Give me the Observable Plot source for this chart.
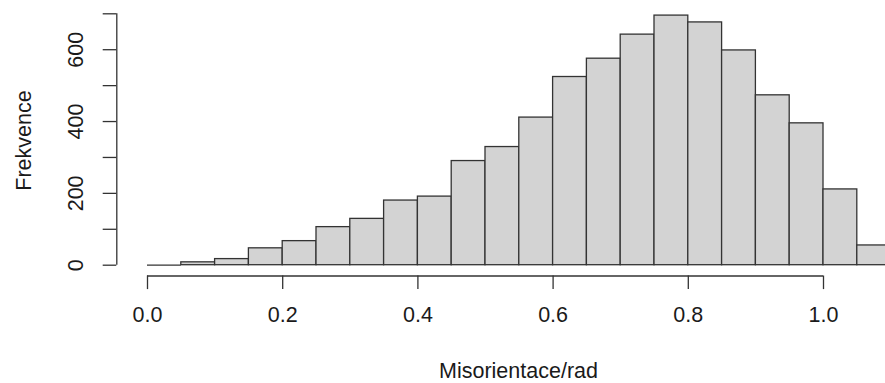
<!DOCTYPE html>
<html>
<head>
<meta charset="utf-8">
<style>
  html, body { margin: 0; padding: 0; background: #fff; }
  svg { display: block; }
</style>
<script src="https://cdn.jsdelivr.net/npm/d3@7"></script>
<script src="https://cdn.jsdelivr.net/npm/@observablehq/plot@0.6"></script>
</head>
<body>
<div id="chart"></div>
<script>
const binEdges = [0.00, 0.05, 0.10, 0.15, 0.20, 0.25, 0.30, 0.35, 0.40, 0.45, 0.50, 0.55,
                  0.60, 0.65, 0.70, 0.75, 0.80, 0.85, 0.90, 0.95, 1.00, 1.05, 1.10];
const counts = [0, 8, 17, 47, 67, 106, 129, 180, 191, 290, 329, 411,
                524, 575, 642, 695, 676, 598, 473, 395, 211, 55];
const xTicks = [0, 0.2, 0.4, 0.6, 0.8, 1.0];
const xTickLabels = ["0.0", "0.2", "0.4", "0.6", "0.8", "1.0"];
const yTicks = [0, 100, 200, 300, 400, 500, 600, 700];
const yLabelValues = [0, 200, 400, 600];
const xTitle = "Misorientace/rad";
const yTitle = "Frekvence";

const bins = counts.map((c, i) => ({x1: binEdges[i], x2: binEdges[i + 1], count: c}));

const ink = "#333";
const textInk = "#1a1a1a";
const font = "'Liberation Sans', Arial, Helvetica, sans-serif";
const fs = 21.5;

const chart = Plot.plot({
  width: 885,
  height: 383,
  marginLeft: 116.3,
  marginRight: 0,
  marginTop: 13.3,
  marginBottom: 107.5,
  style: {fontFamily: font, fontSize: fs + "px", color: textInk, background: "#fff"},
  x: {domain: [0, 1], range: [147, 823]},
  y: {domain: [0, 700], range: [264.7, 13.3]},
  marks: [
    Plot.rectY(bins, {x1: "x1", x2: "x2", y: "count", fill: "#d3d3d3", stroke: ink, strokeWidth: 1.3}),
    // empty bins are drawn by R as a flat line on the baseline
    Plot.ruleY(bins.filter(b => b.count === 0), {x1: "x1", x2: "x2", y: "count", stroke: ink, strokeWidth: 1.3}),
    // x axis
    Plot.ruleY([0], {x1: 0, x2: 1, dy: 10.8, stroke: ink, strokeWidth: 1.3}),
    Plot.axisX({
      anchor: "bottom", ticks: xTicks, tickSize: 13.6, tickPadding: 17,
      tickFormat: (d) => xTickLabels[xTicks.indexOf(d)] ?? "",
      stroke: ink, strokeWidth: 1.3, fontSize: fs, fill: textInk, label: null
    }),
    // y axis
    Plot.ruleX([0], {y1: 0, y2: 700, dx: -30.7, stroke: ink, strokeWidth: 1.3}),
    Plot.axisY({
      anchor: "left", ticks: yTicks, tickSize: 13.6, tickFormat: () => "",
      stroke: ink, strokeWidth: 1.3, label: null
    }),
    Plot.text(yLabelValues, {
      y: d => d, frameAnchor: "left", dx: -40.8, rotate: -90,
      text: d => String(d), textAnchor: "middle", lineAnchor: "middle",
      fontSize: fs, fill: textInk
    }),
    // titles
    Plot.text([xTitle], {
      frameAnchor: "top-left", dx: 401.7, dy: 357.7, text: d => d,
      textAnchor: "middle", lineAnchor: "middle", fontSize: fs, fill: textInk
    }),
    Plot.text([yTitle], {
      frameAnchor: "top-left", dx: -92.3, dy: 126.7, rotate: -90, text: d => d,
      textAnchor: "middle", lineAnchor: "middle", fontSize: fs, fill: textInk
    })
  ]
});
document.getElementById("chart").appendChild(chart);
</script>
</body>
</html>
